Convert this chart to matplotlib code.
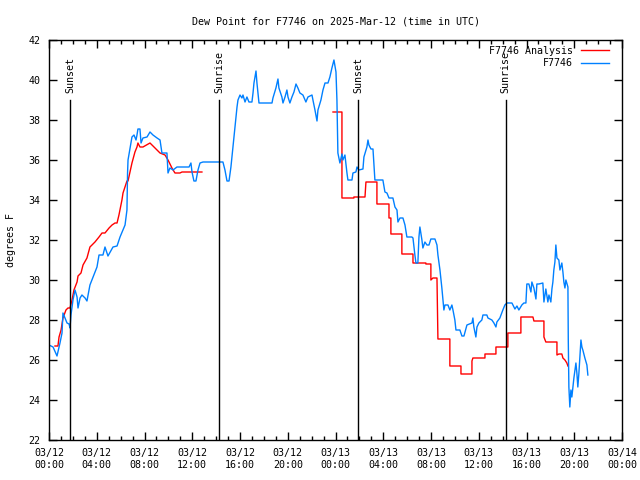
import numpy as np
import pandas as pd
import matplotlib
matplotlib.use('Agg')
import matplotlib.pyplot as plt
import matplotlib.dates as mdates

plt.rcParams['font.family'] = ['DejaVu Sans Mono']
plt.rcParams['font.size'] = 7.2

base = pd.Timestamp('2025-03-12 00:00')

# station obs: hours after 03/12 00:00 UTC, dew point F
obs_hours = [0.00, 0.34, 0.67, 0.92, 1.09, 1.17, 1.34, 1.51, 1.68, 1.76, 1.84, 2.01, 2.18, 2.35, 2.43, 2.60, 2.76,
             3.02, 3.18, 3.43, 3.69, 4.02, 4.19, 4.52, 4.69, 4.94, 5.36, 5.70, 5.95, 6.37, 6.53, 6.58, 6.62, 6.87,
             6.95, 7.12, 7.29, 7.37, 7.45, 7.62, 7.71, 7.87, 8.21, 8.46, 8.71, 9.05, 9.30, 9.46, 9.88, 9.97, 10.13,
             10.39, 10.72, 11.73, 11.89, 11.98, 12.14, 12.31, 12.48, 12.65, 12.90, 14.57, 14.74, 14.91, 15.08,
             15.24, 15.41, 15.58, 15.75, 15.83, 16.00, 16.16, 16.25, 16.42, 16.58, 16.75, 17.00, 17.09, 17.17,
             17.34, 17.42, 17.59, 18.68, 18.76, 19.01, 19.18, 19.26, 19.51, 19.60, 19.77, 19.93, 20.02, 20.18,
             20.35, 20.52, 20.69, 20.85, 21.02, 21.27, 21.52, 21.69, 22.03, 22.11, 22.28, 22.45, 22.53, 22.78,
             22.95, 23.12, 23.37, 23.53, 23.70, 23.87, 24.04, 24.12, 24.20, 24.37, 24.54, 24.62, 24.79, 24.96,
             25.04, 25.38, 25.46, 25.71, 25.80, 25.96, 26.30, 26.38, 26.63, 26.72, 26.80, 26.97, 27.14, 27.30,
             27.97, 28.14, 28.31, 28.48, 28.81, 28.98, 29.15, 29.23, 29.40, 29.65, 29.82, 29.98, 30.40, 30.49,
             30.65, 30.74, 30.90, 30.99, 31.07, 31.24, 31.32, 31.49, 31.66, 31.83, 31.99, 32.33, 32.50, 32.58,
             32.75, 32.91, 33.08, 33.17, 33.42, 33.58, 33.75, 33.84, 34.00, 34.09, 34.42, 34.59, 34.76, 35.01,
             35.43, 35.51, 35.59, 35.76, 35.85, 36.01, 36.26, 36.35, 36.68, 36.77, 37.10, 37.27, 37.44, 37.52,
             37.77, 38.02, 38.19, 38.36, 38.78, 38.86, 39.03, 39.20, 39.36, 39.61, 39.78, 39.95, 40.03, 40.20,
             40.37, 40.45, 40.62, 40.79, 40.87, 41.04, 41.37, 41.46, 41.62, 41.79, 41.88, 42.04, 42.13, 42.21,
             42.29, 42.38, 42.46, 42.55, 42.71, 42.80, 42.96, 43.05, 43.13, 43.22, 43.30, 43.47, 43.50, 43.55,
             43.63, 43.72, 43.80, 43.97, 44.14, 44.22, 44.30, 44.39, 44.47, 44.56, 44.64, 44.72, 44.89, 45.06,
             45.14]
obs_dewp = [26.75, 26.65, 26.2, 26.85, 27.35, 28.35, 28.1, 27.85, 27.8, 27.6, 28.25, 29.0, 29.5, 29.15, 28.6, 29.1,
            29.25, 29.1, 28.95, 29.75, 30.15, 30.65, 31.25, 31.25, 31.65, 31.2, 31.65, 31.7, 32.15, 32.75, 33.5,
            35.35, 36.0, 36.85, 37.15, 37.25, 37.0, 37.25, 37.55, 37.55, 36.85, 37.1, 37.15, 37.4, 37.25, 37.1,
            37.0, 36.35, 36.35, 35.35, 35.6, 35.5, 35.65, 35.65, 35.85, 35.4, 34.95, 34.95, 35.5, 35.85, 35.9,
            35.9, 35.5, 34.95, 34.95, 35.65, 36.65, 37.65, 38.65, 39.0, 39.25, 39.1, 39.25, 38.9, 39.15, 38.9,
            38.9, 39.35, 39.85, 40.45, 39.85, 38.85, 38.85, 39.1, 39.6, 40.05, 39.6, 39.15, 38.85, 39.15, 39.5,
            39.15, 38.85, 39.15, 39.4, 39.8, 39.6, 39.35, 39.25, 38.9, 39.15, 39.25, 39.0, 38.5, 37.95, 38.5,
            39.0, 39.5, 39.85, 39.85, 40.15, 40.6, 41.0, 40.4, 39.0, 36.35, 35.85, 36.3, 36.0, 36.25, 35.35,
            35.0, 35.0, 35.35, 35.4, 35.65, 35.5, 35.55, 36.15, 36.65, 37.0, 36.75, 36.55, 36.55, 35.0, 35.0,
            34.4, 34.35, 34.1, 34.1, 33.65, 33.5, 32.9, 33.1, 33.1, 32.75, 32.15, 32.15, 32.1, 31.25, 30.85,
            30.85, 32.15, 32.65, 32.0, 31.6, 31.9, 31.75, 31.75, 32.05, 32.05, 31.75, 31.25, 30.5, 29.6, 28.5,
            28.75, 28.75, 28.5, 28.75, 28.5, 28.0, 27.5, 27.5, 27.2, 27.2, 27.75, 27.85, 28.1, 27.65, 27.15,
            27.65, 27.85, 28.0, 28.25, 28.25, 28.1, 28.0, 27.85, 27.65, 27.9, 28.1, 28.5, 28.75, 28.85, 28.85,
            28.75, 28.55, 28.7, 28.5, 28.75, 28.85, 28.85, 29.8, 29.8, 29.4, 29.9, 29.6, 29.05, 29.8, 29.8,
            29.85, 28.9, 29.55, 28.9, 29.25, 28.9, 29.55, 29.9, 30.5, 30.9, 31.75, 31.1, 31.0, 30.5, 30.85,
            30.4, 29.9, 29.6, 30.0, 29.65, 27.0, 24.65, 23.65, 24.5, 24.15, 25.1, 25.85, 25.35, 24.65, 25.35,
            26.15, 27.0, 26.65, 26.5, 26.1, 25.75, 25.25]

# analysis, first run
ana1_hours = [0.50, 0.75, 0.84, 1.01, 1.17, 1.42, 1.59, 1.76, 1.93, 2.09, 2.35, 2.43, 2.68, 2.85, 3.18, 3.43, 3.60,
              3.85, 4.19, 4.44, 4.69, 5.03, 5.28, 5.53, 5.70, 5.86, 6.11, 6.20, 6.53, 6.62, 6.95, 7.20, 7.37, 7.45,
              7.62, 7.87, 8.46, 8.88, 9.30, 9.72, 9.97, 10.30, 10.55, 10.97, 11.14, 12.65, 12.81]
ana1_dewp = [26.7, 26.7, 27.15, 27.5, 28.1, 28.5, 28.6, 28.6, 29.0, 29.5, 29.9, 30.2, 30.35, 30.75, 31.1, 31.65,
             31.75, 31.9, 32.15, 32.35, 32.35, 32.6, 32.75, 32.85, 32.85, 33.25, 34.0, 34.35, 34.95, 34.95, 35.85,
             36.4, 36.65, 36.85, 36.65, 36.65, 36.85, 36.6, 36.35, 36.25, 36.0, 35.6, 35.35, 35.35, 35.4, 35.4,
             35.4]
# analysis, second run
ana2_hours = [23.79, 24.54, 24.54, 25.54, 25.54, 26.47, 26.55, 27.47, 27.47, 28.48, 28.48, 28.64, 28.64, 29.56,
              29.56, 30.49, 30.49, 31.57, 31.57, 31.99, 31.99, 32.16, 32.50, 32.58, 33.58, 33.58, 34.51, 34.51,
              35.43, 35.43, 35.51, 36.52, 36.52, 37.44, 37.44, 38.44, 38.44, 39.53, 39.53, 40.54, 40.62, 41.46,
              41.46, 41.62, 42.55, 42.55, 42.71, 42.96, 43.05, 43.22, 43.38, 43.47]
ana2_dewp = [38.4, 38.4, 34.1, 34.1, 34.15, 34.15, 34.9, 34.9, 33.8, 33.8, 33.1, 33.1, 32.3, 32.3, 31.3, 31.3,
             30.85, 30.85, 30.8, 30.8, 30.0, 30.1, 30.1, 27.05, 27.05, 25.7, 25.7, 25.3, 25.3, 25.95, 26.1, 26.1,
             26.3, 26.3, 26.65, 26.65, 27.35, 27.35, 28.15, 28.15, 27.95, 27.95, 27.15, 26.9, 26.9, 26.25, 26.3,
             26.3, 26.1, 26.0, 25.85, 25.7]

sun_hours = [1.76, 14.24, 25.88, 38.27]
sun_names = ['Sunset', 'Sunrise', 'Sunset', 'Sunrise']


def to_time(h):
    return base + pd.to_timedelta(np.array(h), unit='h')


fig = plt.figure(figsize=(6.4, 4.8), dpi=100)
ax = fig.add_axes([49/640, 1 - 440/480, 573/640, 400/480])

ax.plot(to_time(ana1_hours), ana1_dewp, color='#ff0000', lw=1, label='F7746 Analysis')
ax.plot(to_time(ana2_hours), ana2_dewp, color='#ff0000', lw=1)
ax.plot(to_time(obs_hours), obs_dewp, color='#0080ff', lw=1, label='F7746')

for h, name in zip(sun_hours, sun_names):
    t = to_time([h])[0]
    ax.plot([t, t], [22, 39], color='black', lw=1)
    ax.text(t, 39.35, name, rotation=90, ha='center', va='bottom')

ax.set_xlim(base, base + pd.Timedelta(hours=48))
ax.set_ylim(22, 42)
ax.set_yticks(np.arange(22, 43, 2))
ax.xaxis.set_major_locator(mdates.HourLocator(byhour=range(0, 24, 4)))
ax.xaxis.set_minor_locator(mdates.HourLocator())
ax.xaxis.set_major_formatter(mdates.DateFormatter('%m/%d\n%H:%M'))

ax.tick_params(which='both', direction='in', top=True, right=True, labelsize=7.2, width=1)
ax.tick_params(which='major', length=6, pad=6)
ax.tick_params(which='minor', length=3)
for s in ax.spines.values():
    s.set_linewidth(1)

ax.set_title('Dew Point for F7746 on 2025-Mar-12 (time in UTC)', fontsize=7.2, pad=11)
ax.set_ylabel('degrees F', fontsize=7.2, labelpad=9)

ax.legend(loc='upper right', bbox_to_anchor=(1 - 7/573, 1), frameon=False, markerfirst=False,
          handlelength=2.8, handletextpad=0.8, labelspacing=0.25, borderaxespad=0.2, fontsize=7.2)

fig.savefig('out.png', dpi=100)
